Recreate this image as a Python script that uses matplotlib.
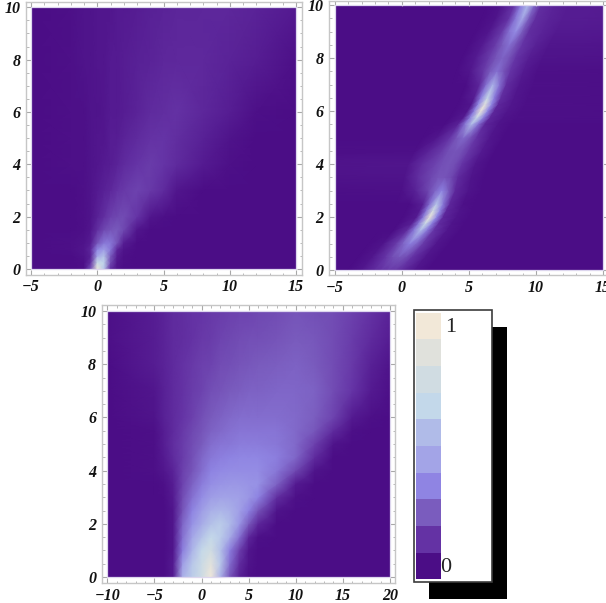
import numpy as np
import matplotlib
matplotlib.use("Agg")
import matplotlib.pyplot as plt
from matplotlib.colors import LinearSegmentedColormap, ListedColormap
from matplotlib.patches import Rectangle

W, H = 606, 603

legend_colors = ["#4B0D86", "#6432A4", "#7A5CBE", "#8F84E3", "#A3A4E7",
                 "#B0BBE8", "#C3D8EA", "#D0DCE2", "#E0E1DC", "#F2E8D8"]
legend_levels = [0, 1, 2, 3, 4, 5, 6, 7, 8, 9]
legend_labels = ["0", "1"]

# Panel A: top left
a_x = [-5, -2, -1, -.5, 0, .5, 1, 1.5, 2, 3, 4, 5, 6, 8, 10, 12, 15]
a_y = [0, .25, .5, .75, 1, 1.5, 2, 3, 4, 5, 6, 8, 10]
a_v = [
 [0, 0, .01, .2, .95, .6, .1, .02, 0, 0, 0, 0, 0, 0, 0, 0, 0],
 [0, 0, .01, .1, .7, .65, .18, .03, .01, 0, 0, 0, 0, 0, 0, 0, 0],
 [0, 0, .02, .06, .45, .58, .22, .05, .01, 0, 0, 0, 0, 0, 0, 0, 0],
 [0, .01, .03, .08, .34, .42, .3, .08, .02, 0, 0, 0, 0, 0, 0, 0, 0],
 [0, .01, .02, .05, .2, .3, .3, .2, .05, 0, 0, 0, 0, 0, 0, 0, 0],
 [0, 0, .01, .03, .1, .17, .2, .22, .17, .03, 0, 0, 0, 0, 0, 0, 0],
 [0, 0, .01, .02, .06, .1, .15, .17, .18, .12, .03, .01, 0, 0, 0, 0, 0],
 [0, 0, .01, .02, .04, .06, .08, .11, .13, .16, .13, .09, .03, 0, 0, 0, 0],
 [0, .01, .01, .02, .03, .04, .05, .07, .09, .12, .14, .12, .09, .04, .01, 0, 0],
 [0, .01, .01, .02, .03, .03, .05, .05, .07, .09, .11, .12, .1, .06, .02, 0, 0],
 [0, .01, .01, .02, .02, .03, .04, .04, .05, .07, .09, .1, .11, .08, .05, .01, 0],
 [0, .01, .02, .02, .03, .03, .04, .04, .05, .06, .07, .08, .085, .085, .07, .05, .01],
 [0, .01, .02, .02, .03, .03, .03, .04, .04, .05, .06, .07, .075, .08, .08, .07, .04],
]

# Panel B: top right, values across the ridge
b_y = [0, .5, 1, 1.5, 1.75, 2, 2.25, 2.5, 3, 3.5, 4, 4.5, 5, 5.5, 5.75, 6, 6.25,
       6.5, 7, 7.5, 8, 8.5, 9, 9.5, 10]
b_ridge = [-1.0, -.2, .6, 1.4, 1.75, 2.1, 2.35, 2.6, 3.0, 3.2, 3.5, 4.0, 4.6, 5.2,
           5.6, 5.9, 6.2, 6.4, 6.8, 7.1, 7.5, 8.0, 8.5, 9.0, 9.4]
b_offset = [-30, -3, -2, -1, -.5, 0, .5, 1, 2, 3, 30]
b_v = [
 [0, 0, .03, .09, .11, .13, .13, .1, .03, 0, 0],
 [0, 0, .03, .12, .18, .21, .19, .12, .03, 0, 0],
 [0, 0, .02, .14, .24, .32, .26, .14, .03, 0, 0],
 [0, 0, 0, .1, .3, .55, .3, .12, .03, 0, 0],
 [0, 0, 0, .06, .3, .72, .32, .1, .02, 0, 0],
 [0, 0, 0, .04, .3, .95, .35, .08, .02, 0, 0],
 [0, 0, 0, .04, .3, .8, .35, .08, .02, 0, 0],
 [0, 0, 0, .06, .28, .6, .3, .08, .01, 0, 0],
 [0, .01, .06, .17, .25, .33, .22, .08, .02, 0, 0],
 [0, .02, .1, .17, .2, .2, .17, .09, .02, 0, 0],
 [0, .03, .1, .16, .19, .2, .18, .12, .03, 0, 0],
 [0, .01, .07, .14, .19, .2, .19, .13, .04, 0, 0],
 [0, 0, .03, .12, .2, .26, .2, .11, .03, 0, 0],
 [0, 0, 0, .07, .28, .55, .28, .08, .02, 0, 0],
 [0, 0, 0, .04, .32, .72, .32, .08, .02, .01, 0],
 [0, 0, 0, .03, .32, .95, .35, .08, .03, .01, 0],
 [0, 0, 0, .03, .35, .9, .35, .08, .03, .01, 0],
 [0, 0, 0, .05, .32, .7, .32, .1, .03, .01, 0],
 [0, 0, 0, .08, .28, .5, .28, .1, .03, .01, 0],
 [0, 0, .03, .13, .22, .28, .2, .12, .04, .01, 0],
 [0, 0, .04, .14, .2, .24, .2, .12, .05, .02, 0],
 [0, 0, .04, .14, .22, .28, .2, .12, .06, .03, 0],
 [0, 0, .03, .14, .28, .36, .22, .1, .07, .04, 0],
 [0, 0, .02, .12, .3, .46, .22, .1, .07, .05, 0],
 [0, 0, .02, .12, .32, .55, .25, .1, .07, .05, 0],
]

# Panel C: bottom
c_x = [-10, -5, -4, -3, -2, -1, 0, 1, 2, 3, 4, 5, 6, 8, 10, 12, 14, 16, 18, 20]
c_y = [0, .5, 1, 1.5, 2, 2.5, 3, 3.5, 4, 4.5, 5, 5.5, 6, 7, 8, 9, 10]
c_v = [
 [0, 0, 0, .04, .5, .62, .75, .98, .5, .2, .06, .01, 0, 0, 0, 0, 0, 0, 0, 0],
 [0, 0, 0, .04, .42, .6, .73, .9, .6, .27, .1, .02, 0, 0, 0, 0, 0, 0, 0, 0],
 [0, 0, 0, .03, .32, .52, .68, .78, .58, .32, .15, .03, 0, 0, 0, 0, 0, 0, 0, 0],
 [0, 0, 0, .03, .28, .45, .58, .68, .62, .48, .28, .08, .01, 0, 0, 0, 0, 0, 0, 0],
 [0, 0, 0, .03, .25, .38, .48, .58, .62, .55, .4, .22, .08, 0, 0, 0, 0, 0, 0, 0],
 [0, 0, 0, .03, .2, .33, .42, .5, .53, .5, .43, .33, .2, .02, 0, 0, 0, 0, 0, 0],
 [0, 0, .005, .04, .18, .28, .36, .42, .44, .44, .43, .4, .33, .1, .01, 0, 0, 0, 0, 0],
 [0, 0, .01, .05, .16, .24, .31, .37, .39, .4, .4, .39, .38, .24, .04, 0, 0, 0, 0, 0],
 [0, .01, .03, .07, .15, .2, .27, .33, .35, .36, .36, .36, .36, .3, .17, .02, 0, 0, 0, 0],
 [0, .01, .04, .09, .14, .19, .25, .3, .32, .33, .34, .34, .34, .32, .25, .09, 0, 0, 0, 0],
 [0, .01, .05, .1, .14, .18, .22, .27, .29, .3, .31, .31, .31, .3, .26, .15, .02, 0, 0, 0],
 [0, .01, .05, .09, .13, .17, .2, .24, .26, .28, .29, .29, .29, .29, .26, .21, .09, .01, 0, 0],
 [0, .02, .06, .09, .12, .15, .19, .22, .24, .26, .27, .27, .27, .27, .26, .23, .16, .04, .01, 0],
 [0, .03, .06, .09, .11, .14, .16, .19, .2, .22, .23, .24, .24, .25, .25, .24, .18, .12, .04, .01],
 [0, .05, .07, .09, .11, .13, .15, .16, .18, .19, .2, .21, .22, .23, .24, .22, .18, .13, .06, .02],
 [.01, .05, .07, .09, .1, .11, .13, .14, .16, .17, .18, .19, .19, .2, .22, .21, .18, .14, .09, .05],
 [.01, .05, .07, .09, .1, .11, .12, .13, .14, .15, .16, .16, .17, .18, .2, .19, .18, .15, .11, .07],
]

a_xticks = [-5, 0, 5, 10, 15]
c_xticks = [-10, -5, 0, 5, 10, 15, 20]
yticks = [0, 2, 4, 6, 8, 10]

cmap = LinearSegmentedColormap.from_list("field", legend_colors)
FONT = ["Liberation Serif", "DejaVu Serif"]
FRAME = "#c6c6c6"

fig = plt.figure(figsize=(W / 100, H / 100), dpi=100, facecolor="white")


def panel(image_px, frame_px, xlim, xticks, X, Y, V):
    il, ir, it, ib = image_px
    fl, fr, ft, fb = frame_px
    ax = fig.add_axes([fl / W, 1 - fb / H, (fr - fl) / W, (fb - ft) / H])
    sx = (xlim[1] - xlim[0]) / (ir - il)
    sy = 10 / (ib - it)
    ax.set_xlim(xlim[0] - (il - fl) * sx, xlim[1] + (fr - ir) * sx)
    ax.set_ylim(-(fb - ib) * sy, 10 + (it - ft) * sy)
    mesh = ax.pcolormesh(X, Y, V, shading="gouraud", cmap=cmap, vmin=0, vmax=1, zorder=1)
    clip = Rectangle((xlim[0], 0), xlim[1] - xlim[0], 10, transform=ax.transData)
    mesh.set_clip_path(clip)
    ax.add_patch(Rectangle((xlim[0], 0), xlim[1] - xlim[0], 10, fill=False,
                           ec="#ddd6ee", lw=0.9, zorder=2))
    ax.set_xticks(xticks)
    ax.set_xticklabels([str(t).replace("-", "\u2212") for t in xticks])
    ax.set_xticks(np.arange(xlim[0], xlim[1] + 1, 1), minor=True)
    ax.set_yticks(yticks)
    ax.set_yticklabels([str(t) for t in yticks])
    ax.set_yticks(np.arange(0, 10.5, .5), minor=True)
    ax.tick_params(which="major", direction="in", length=3.4, width=0.8, color="#a8a8a8",
                   top=True, right=True)
    ax.tick_params(axis="x", which="major", pad=3.5)
    ax.tick_params(axis="y", which="major", pad=4)
    ax.tick_params(which="minor", direction="in", length=1.8, width=0.7, color="#b8b8b8",
                   top=True, right=True)
    for lab in ax.get_xticklabels() + ax.get_yticklabels():
        lab.set_family(FONT)
        lab.set_style("italic")
        lab.set_weight("bold")
        lab.set_size(11.5)
        lab.set_color("#111111")
    for s in ax.spines.values():
        s.set_color(FRAME)
        s.set_linewidth(1.0)
    return ax


ax_x, ax_y = np.meshgrid(a_x, a_y)
panel((31, 296, 7.3, 269), (26, 301.5, 2, 274.5), (-5, 15), a_xticks, ax_x, ax_y, np.array(a_v))

bx = np.array(b_ridge)[:, None] + np.array(b_offset)[None, :]
by = np.repeat(np.array(b_y)[:, None], len(b_offset), axis=1)
panel((334.7, 603, 5, 270), (329, 607.5, 0.5, 275), (-5, 15), a_xticks, bx, by, np.array(b_v))

cx_x, cx_y = np.meshgrid(c_x, c_y)
panel((107.3, 390, 311, 577), (101.7, 395, 305, 583), (-10, 20), c_xticks, cx_x, cx_y, np.array(c_v))

# Legend, in pixel coordinates of the figure
lg = fig.add_axes([0, 0, 1, 1], zorder=5)
lg.set_xlim(0, W)
lg.set_ylim(H, 0)
lg.axis("off")
lg.patch.set_alpha(0)
lg.add_patch(Rectangle((429, 326.7), 77.7, 272.3, fc="black", ec="none", zorder=1))
lg.add_patch(Rectangle((414, 310), 77.7, 271.7, fc="white", ec="#3c3c3c", lw=1.2, zorder=2))
sw_edges = np.linspace(579.3, 312.7, len(legend_levels) + 1)
lg.pcolormesh([416, 440.7], sw_edges, np.array(legend_levels)[:, None],
              cmap=ListedColormap(legend_colors), vmin=-.5, vmax=9.5, zorder=3)
lg.set_xlim(0, W)
lg.set_ylim(H, 0)
lg.text(446, 567.5, legend_labels[0], family=FONT, size=16, ha="center", va="center",
        color="#222222", zorder=4)
lg.text(451, 328, legend_labels[1], family=FONT, size=16, ha="center", va="center",
        color="#222222", zorder=4)

fig.savefig("out.png", dpi=100)
